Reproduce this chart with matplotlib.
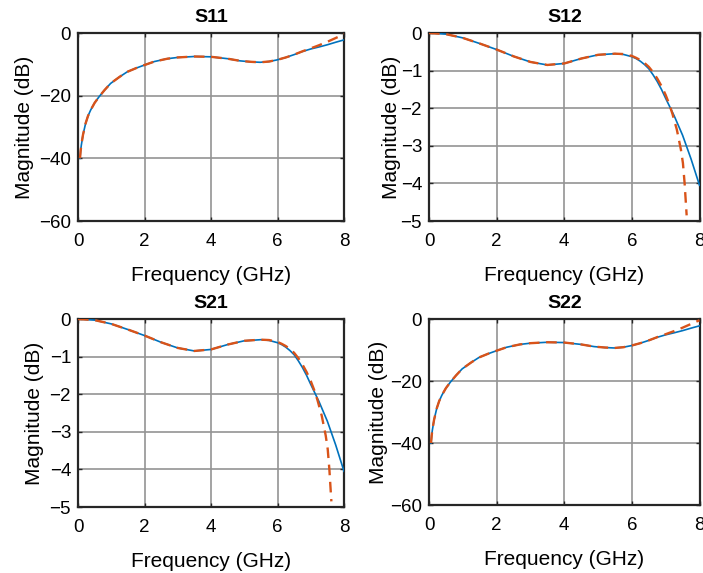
import matplotlib
matplotlib.use("Agg")
import matplotlib.pyplot as plt

plt.rcParams['font.family'] = ['Liberation Sans', 'DejaVu Sans']

# ---- data ----
# reflection (S11 / S22), measured (solid) and model (dashed)
f_refl = [0.06, 0.08, 0.10, 0.15, 0.23, 0.30, 0.38, 0.50, 0.63, 0.80, 0.98, 1.25, 1.48, 1.75,
          1.98, 2.30, 2.69, 3.00, 3.50, 4.00, 4.50, 4.88, 5.20, 5.48, 5.75, 5.98,
          6.25, 6.50, 6.75, 7.00, 7.25, 7.50, 7.75, 8.00]
s11_meas = [-40.0, -37.5, -35.8, -32.5, -28.8, -26.5, -24.6, -22.3, -20.4, -18.2, -16.1, -14.0,
            -12.4, -11.2, -10.3, -9.1, -8.2, -7.8, -7.5, -7.6, -8.2, -8.9, -9.2, -9.35,
            -9.1, -8.6, -7.8, -6.9, -5.9, -5.1, -4.45, -3.75, -2.95, -2.2]
s11_model = [-40.0, -37.5, -35.8, -32.5, -28.8, -26.5, -24.6, -22.3, -20.4, -18.2, -16.1, -14.0,
             -12.4, -11.2, -10.3, -9.1, -8.2, -7.8, -7.5, -7.6, -8.2, -8.9, -9.2, -9.35,
             -9.1, -8.6, -7.8, -6.9, -5.85, -4.9, -3.9, -2.8, -1.6, -0.4]
s22_meas = s11_meas
s22_model = s11_model

# transmission (S12 / S21)
f_tran_meas = [0.0, 0.5, 1.0, 1.5, 2.0, 2.5, 3.0, 3.5, 4.0, 4.5, 5.0, 5.5, 5.75, 6.0, 6.125,
               6.25, 6.375, 6.5, 6.625, 6.75, 6.875, 7.0, 7.25, 7.5, 7.75, 8.0]
s12_meas = [0.0, -0.03, -0.13, -0.28, -0.44, -0.62, -0.77, -0.85, -0.81, -0.68, -0.58,
            -0.55, -0.57, -0.63, -0.68, -0.75, -0.84, -0.95, -1.11, -1.29, -1.50, -1.74,
            -2.20, -2.72, -3.35, -4.05]
f_tran_model = [0.0, 0.5, 1.0, 1.5, 2.0, 2.5, 3.0, 3.5, 4.0, 4.5, 5.0, 5.5, 5.75, 6.0, 6.125,
                6.25, 6.375, 6.5, 6.625, 6.75, 6.875, 7.0, 7.1, 7.2, 7.33, 7.45, 7.51, 7.56, 7.62]
s12_model = [0.0, -0.03, -0.13, -0.28, -0.44, -0.62, -0.77, -0.85, -0.81, -0.68, -0.58,
             -0.55, -0.56, -0.61, -0.66, -0.72, -0.80, -0.90, -1.04, -1.21, -1.41, -1.65,
             -1.88, -2.15, -2.57, -3.10, -3.46, -4.0, -4.85]
s21_meas = s12_meas
s21_model = s12_model

titles = ["S11", "S12", "S21", "S22"]
xticks = [0, 2, 4, 6, 8]
refl_yticks = [-60, -40, -20, 0]
tran_yticks = [-5, -4, -3, -2, -1, 0]

BLUE = "#0072BD"
RED = "#D95319"

W, H = 703, 573
fig = plt.figure(figsize=(W / 100, H / 100), dpi=100)

def box(l, r, t, b):
    return [l / W, (H - b) / H, (r - l) / W, (b - t) / H]

specs = [
    (box(78, 344, 33, 221), f_refl, s11_meas, f_refl, s11_model, (-60, 0), refl_yticks, -0.165),
    (box(429, 699.5, 33, 221), f_tran_meas, s12_meas, f_tran_model, s12_model, (-5, 0), tran_yticks, -0.104),
    (box(78, 344, 319, 507), f_tran_meas, s21_meas, f_tran_model, s21_model, (-5, 0), tran_yticks, -0.128),
    (box(429, 699.5, 319, 505), f_refl, s22_meas, f_refl, s22_model, (-60, 0), refl_yticks, -0.15),
]

for (pos, fm, ym, fmod, ymod, ylim, yt, ylx), title in zip(specs, titles):
    ax = fig.add_axes(pos)
    ax.plot(fm, ym, color=BLUE, lw=1.2, zorder=3)
    ax.plot(fmod, ymod, color=RED, lw=1.7, dashes=(4.5, 2.8), zorder=4)
    ax.set_xlim(0, 8)
    ax.set_ylim(*ylim)
    ax.set_xticks(xticks)
    ax.set_yticks(yt)
    ax.grid(True, color="#939393", lw=1.2)
    ax.set_axisbelow(True)
    for sp in ax.spines.values():
        sp.set_color("#262626")
        sp.set_linewidth(1.6)
    ax.tick_params(direction="in", length=3, width=1, colors="#262626",
                   labelsize=13.5, top=True, right=True)
    ax.tick_params(axis="x", pad=9)
    ax.tick_params(axis="y", pad=5)
    ax.tick_params(labelcolor="black")
    ax.set_title(title, fontsize=14, fontweight="bold", pad=8)
    ax.set_xlabel("Frequency (GHz)", fontsize=15, labelpad=11)
    ax.set_ylabel("Magnitude (dB)", fontsize=15)
    ax.yaxis.set_label_coords(ylx, 0.5)

fig.savefig("out.png", dpi=100)
